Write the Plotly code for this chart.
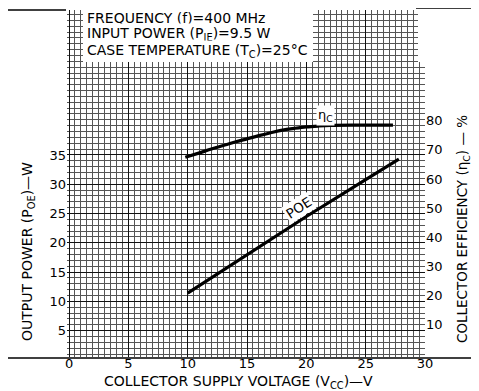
import plotly.graph_objects as go

# Data
vcc_eff = [9.8, 11, 12, 13, 14, 15, 16, 17, 18, 19, 20, 21, 22, 24, 26, 27.3]
eff = [67.5, 69, 70.3, 71.5, 72.7, 73.8, 74.9, 75.9, 76.8, 77.4, 77.9, 78.2, 78.4, 78.5, 78.5, 78.5]
vcc_pow = [10, 15, 20, 25, 27.8]
pout = [11.4, 18.0, 24.5, 30.8, 34.3]

x_ticks = [0, 5, 10, 15, 20, 25, 30]
y_ticks = [5, 10, 15, 20, 25, 30, 35]
y2_ticks = [10, 20, 30, 40, 50, 60, 70, 80]

OFF = 8  # page body margin
W, H = 479 - OFF, 391 - OFF
L, R, T, B = 67 - OFF, 425 - OFF, 10 - OFF, 357 - OFF
FONT = "DejaVu Sans"

def px(x):
    return (x - OFF - L) / (R - L)

def py(y):
    return (B - (y - OFF)) / (B - T)

fig = go.Figure()
fig.add_trace(go.Scatter(x=vcc_pow, y=pout, mode="lines", line=dict(color="black", width=3.2),
                         xaxis="x", yaxis="y", showlegend=False, hoverinfo="skip"))
fig.add_trace(go.Scatter(x=vcc_eff, y=eff, mode="lines", line=dict(color="black", width=3.2, shape="spline"),
                         xaxis="x", yaxis="y2", showlegend=False, hoverinfo="skip"))

grid_major = "#111"
grid_minor = "#555"

fig.update_layout(
    width=W, height=H,
    margin=dict(l=L, r=W - R, t=T, b=H - B, autoexpand=False),
    paper_bgcolor="white", plot_bgcolor="white",
    font=dict(family=FONT, size=12, color="black"),
    xaxis=dict(range=[-0.17, 30], tickvals=x_ticks, ticktext=[str(v) for v in x_ticks],
               showgrid=True, gridcolor=grid_major, gridwidth=1.4,
               minor=dict(dtick=0.5, tick0=0, showgrid=True, gridcolor=grid_minor, gridwidth=1),
               zeroline=False, showline=False, ticks="", tickfont=dict(size=13), automargin=False,
               ticklabelstandoff=-3),
    yaxis=dict(range=[0.5, 59.76], tickvals=y_ticks, ticktext=[str(v) for v in y_ticks],
               showgrid=True, gridcolor=grid_major, gridwidth=1.4,
               minor=dict(dtick=1, tick0=0, showgrid=True, gridcolor=grid_minor, gridwidth=1),
               zeroline=False, showline=False, ticks="", tickfont=dict(size=13), automargin=False),
    yaxis2=dict(range=[-1.03, 118.0], overlaying="y", side="right",
                tickvals=y2_ticks, ticktext=[str(v) for v in y2_ticks],
                showgrid=False, zeroline=False, showline=False, ticks="", tickfont=dict(size=13),
                automargin=False),
)

shapes = [
    # white area behind the condition text
    dict(type="rect", xref="paper", yref="paper", x0=px(83), x1=px(313), y0=py(62), y1=py(8),
         fillcolor="white", line=dict(width=0), layer="above"),
    dict(type="rect", xref="paper", yref="paper", x0=px(418), x1=px(427), y0=py(62), y1=py(8),
         fillcolor="white", line=dict(width=0), layer="above"),
    # outer frame
    dict(type="line", xref="paper", yref="paper", x0=px(5), x1=px(5), y0=py(358), y1=py(10),
         line=dict(color="black", width=1.5)),
    dict(type="line", xref="paper", yref="paper", x0=px(5), x1=px(66), y0=py(10), y1=py(10),
         line=dict(color="black", width=1.5)),
    dict(type="line", xref="paper", yref="paper", x0=px(416), x1=px(479), y0=py(8), y1=py(8),
         line=dict(color="black", width=1.5)),
    dict(type="line", xref="paper", yref="paper", x0=px(5), x1=px(479), y0=py(358), y1=py(358),
         line=dict(color="black", width=1.5)),
]
fig.update_layout(shapes=shapes)

ann = [
    dict(text="FREQUENCY (f)=400 MHz", x=px(85), y=py(18)),
    dict(text="INPUT POWER (P<sub>IE</sub>)=9.5 W", x=px(85), y=py(34)),
    dict(text="CASE TEMPERATURE (T<sub>C</sub>)=25°C", x=px(85), y=py(51)),
]
annotations = []
for a in ann:
    annotations.append(dict(text=a["text"], x=a["x"], y=a["y"], xref="paper", yref="paper",
                            xanchor="left", yanchor="middle", showarrow=False,
                            font=dict(family=FONT, size=14, color="black"), bgcolor="white"))

annotations += [
    dict(text="COLLECTOR SUPPLY VOLTAGE (V<sub>CC</sub>)—V", x=px(238), y=py(382), xref="paper", yref="paper",
         xanchor="center", yanchor="middle", showarrow=False, font=dict(family=FONT, size=14)),
    dict(text="OUTPUT POWER (P<sub>OE</sub>)—W", x=px(28), y=py(252), xref="paper", yref="paper",
         xanchor="center", yanchor="middle", textangle=-90, showarrow=False, font=dict(family=FONT, size=14)),
    dict(text="COLLECTOR EFFICIENCY (η<sub>C</sub>) — %", x=px(463), y=py(229), xref="paper", yref="paper",
         xanchor="center", yanchor="middle", textangle=-90, showarrow=False, font=dict(family=FONT, size=13.5)),
    dict(text="η<sub>C</sub>", x=21.6, y=81.8, xref="x", yref="y2", showarrow=False,
         font=dict(family=FONT, size=13), bgcolor="white"),
    dict(text="POE", x=19.3, y=26.0, xref="x", yref="y", showarrow=False, textangle=-33,
         font=dict(family=FONT, size=13.5), bgcolor="white"),
]
fig.update_layout(annotations=annotations)

fig.write_html("out.html")
